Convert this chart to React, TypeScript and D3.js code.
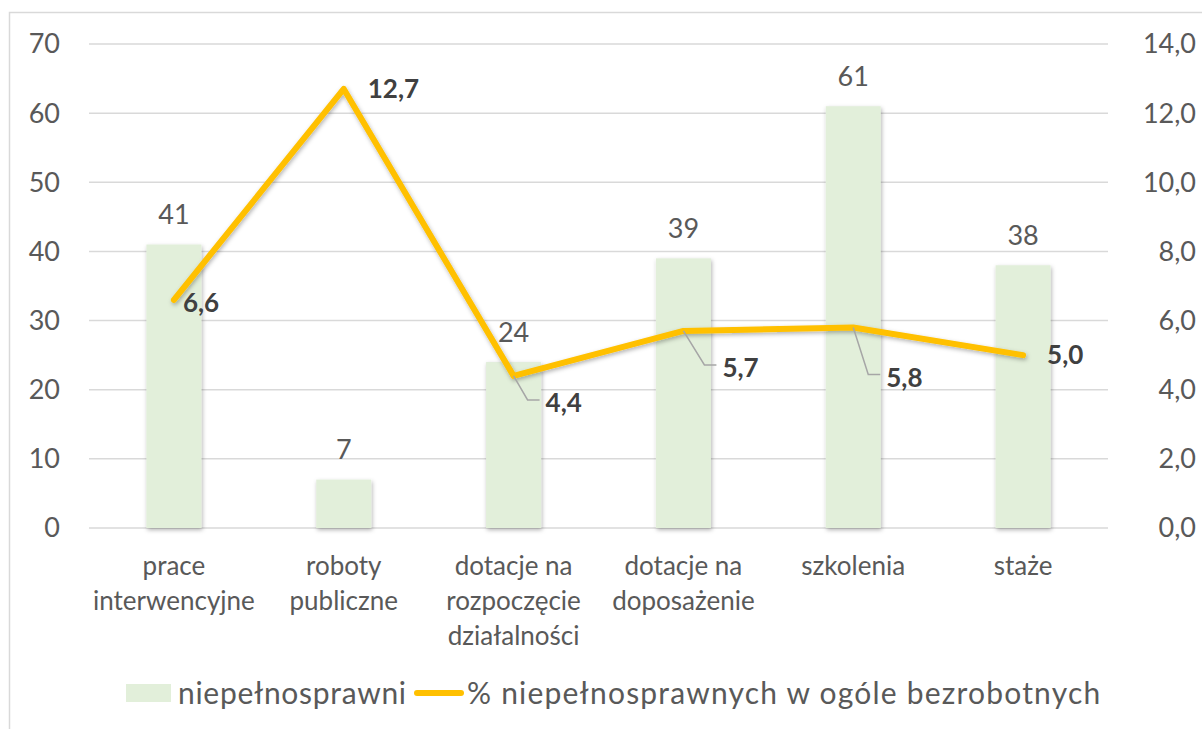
import { scaleBand, scaleLinear, line } from 'd3'

const categories = [
  ['prace', 'interwencyjne'],
  ['roboty', 'publiczne'],
  ['dotacje na', 'rozpoczęcie', 'działalności'],
  ['dotacje na', 'doposażenie'],
  ['szkolenia'],
  ['staże']
]
const barValues = [41, 7, 24, 39, 61, 38]
const lineValues = [6.6, 12.7, 4.4, 5.7, 5.8, 5.0]
const leftTicks = [0, 10, 20, 30, 40, 50, 60, 70]
const rightTicks = [0, 2, 4, 6, 8, 10, 12, 14]
const barName = 'niepełnosprawni'
const lineName = '% niepełnosprawnych w ogóle bezrobotnych'

// label offsets from the point, leader = draw a callout line
const lineLabelPos = [
  { dx: 9, dy: 3, leader: false },
  { dx: 24, dy: 0, leader: false },
  { dx: 32, dy: 27, leader: true },
  { dx: 39, dy: 37, leader: true },
  { dx: 33, dy: 50, leader: true },
  { dx: 24, dy: 0, leader: false }
]

const width = 1202
const height = 729
const margin = { top: 44, right: 94, bottom: 201, left: 89 }
const font = 'Lato, Calibri, sans-serif'
const grey = '#595959'

function App() {
  const innerWidth = width - margin.left - margin.right
  const innerHeight = height - margin.top - margin.bottom

  const x = scaleBand<number>()
    .domain(categories.map((_, i) => i))
    .range([0, innerWidth])
  const yLeft = scaleLinear().domain([0, 70]).range([innerHeight, 0])
  const yRight = scaleLinear().domain([0, 14]).range([innerHeight, 0])
  const barW = 55
  const cx = (i: number) => (x(i) as number) + x.bandwidth() / 2

  const path = line<number>()
    .x((_, i) => cx(i))
    .y(d => yRight(d))(lineValues)

  return (
    <svg width={width} height={height} style={{ position: 'absolute', left: 0, top: 0, fontFamily: font }}>
      <defs>
        <filter id="sh" x="-20%" y="-20%" width="140%" height="140%">
          <feDropShadow dx="1" dy="2" stdDeviation="2" floodColor="#000" floodOpacity="0.3" />
        </filter>
      </defs>
      <rect x={0} y={0} width={width} height={height} fill="#fff" />
      <rect x={9.5} y={12.5} width={width + 20} height={height + 20} fill="none" stroke="#d9d9d9" strokeWidth={1.5} />
      <g transform={`translate(${margin.left},${margin.top})`}>
        {leftTicks.map(t => (
          <line key={t} x1={0} x2={innerWidth} y1={yLeft(t)} y2={yLeft(t)} stroke="#d9d9d9" strokeWidth={1.5} />
        ))}
        {leftTicks.map(t => (
          <text key={t} x={-29} y={yLeft(t)} dy="0.35em" textAnchor="end" fontSize={27} fill={grey}>{t}</text>
        ))}
        {rightTicks.map(t => (
          <text key={t} x={innerWidth + 88} y={yRight(t)} dy="0.35em" textAnchor="end" fontSize={27} fill={grey}>
            {t.toFixed(1).replace('.', ',')}
          </text>
        ))}
        {barValues.map((v, i) => (
          <rect key={i} x={cx(i) - barW / 2} y={yLeft(v)} width={barW} height={innerHeight - yLeft(v)}
            fill="#e2efda" filter="url(#sh)" />
        ))}
        {barValues.map((v, i) => (
          <text key={i} x={cx(i)} y={yLeft(v) - 30} dy="0.35em" textAnchor="middle" fontSize={27} fill={grey}>{v}</text>
        ))}
        {categories.map((lines, i) => (
          <text key={i} textAnchor="middle" fontSize={26} fill={grey}>
            {lines.map((l, j) => (
              <tspan key={j} x={cx(i)} y={innerHeight + 38 + j * 35} dy="0.35em">{l}</tspan>
            ))}
          </text>
        ))}
        <path d={path || ''} fill="none" stroke="#ffc000" strokeWidth={6} strokeLinejoin="round" strokeLinecap="round" filter="url(#sh)" />
        {lineValues.map((v, i) => {
          const px = cx(i)
          const py = yRight(v)
          const p = lineLabelPos[i]
          const lx = px + p.dx
          const ly = py + p.dy
          return (
            <g key={i}>
              {p.leader && (
                <polyline points={`${px},${py} ${lx - 18},${ly - 3} ${lx - 6},${ly - 3}`} fill="none" stroke="#a6a6a6" strokeWidth={1.5} />
              )}
              <text x={lx} y={ly} dy="0.35em" fontSize={26} fontWeight="bold" fill="#404040">
                {v.toFixed(1).replace('.', ',')}
              </text>
            </g>
          )
        })}
      </g>
      <g transform="translate(126,693)">
        <rect x={0} y={-9} width={45} height={18} fill="#e2efda" />
        <text x={52} y={0} dy="0.35em" fontSize={30} letterSpacing={0.7} fill={grey}>{barName}</text>
        <line x1={291} x2={335} y1={0} y2={0} stroke="#ffc000" strokeWidth={6} strokeLinecap="round" />
        <text x={341} y={0} dy="0.35em" fontSize={30} letterSpacing={1.2} fill={grey}>{lineName}</text>
      </g>
    </svg>
  )
}

export default App
